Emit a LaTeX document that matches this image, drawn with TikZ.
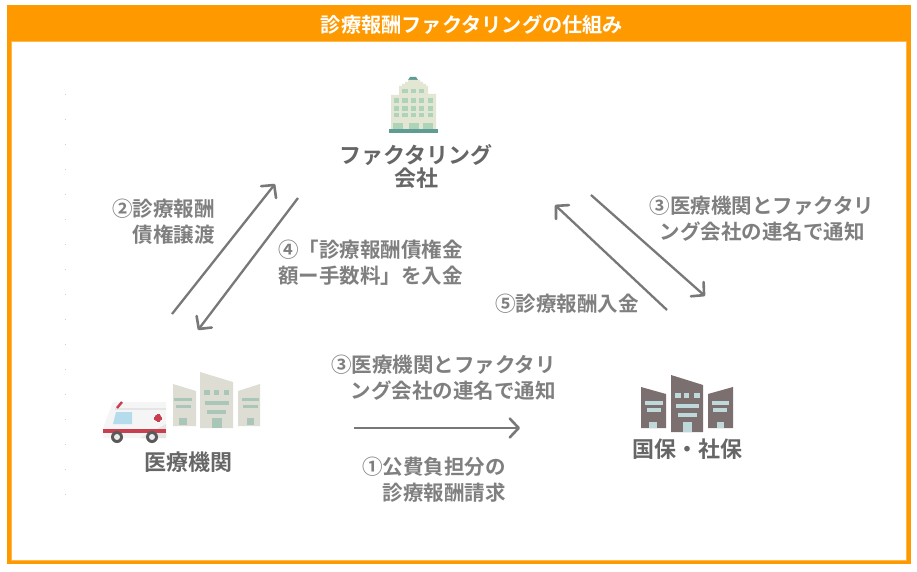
\documentclass[tikz,border=0pt]{standalone}
\usepackage{fontspec}
\setmainfont{Noto Sans CJK JP}[BoldFont={Noto Sans CJK JP Bold}]
\usetikzlibrary{arrows.meta}
\definecolor{orangeA}{HTML}{FF9900}
\definecolor{greyT}{HTML}{7F7F7F}
\definecolor{greyD}{HTML}{666666}
\definecolor{arrowG}{HTML}{787878}
\definecolor{hosp}{HTML}{DEDDD3}
\definecolor{hospW}{HTML}{A9C6B9}
\definecolor{nat}{HTML}{7B6F6F}
\definecolor{natW}{HTML}{BFD8DA}
\definecolor{tow}{HTML}{E3E6D2}
\definecolor{towW}{HTML}{ADD3B8}
\definecolor{towT}{HTML}{5E9C94}
\definecolor{ambR}{HTML}{C8404F}
\definecolor{ambW}{HTML}{B5DCEC}
\tikzset{
  lab/.style={font=\fontsize{20.5}{26}\selectfont\bfseries, text=greyT, inner sep=0pt},
  titleT/.style={font=\fontsize{20.2}{24}\selectfont\bfseries, text=white, inner sep=0pt},
  head/.style={font=\fontsize{22}{23}\selectfont\bfseries, text=greyD, inner sep=0pt, align=center},
  flow/.style={draw=arrowG, line width=2.3pt, -{Straight Barb[length=9pt,width=19pt,line width=2.6pt,round]}},
  speck/.style={fill=black!20, draw=none},
}
\begin{document}
\begin{tikzpicture}[x=1pt,y=-1pt]
\useasboundingbox (0,0) rectangle (917,572);
\fill[white] (0,0) rectangle (917,572);
% frame
\fill[orangeA] (7,5) rectangle (911,564);
\fill[orangeA!70!white] (11,41) rectangle (907,561);
\fill[white] (12,42) rectangle (906,560);
\node[titleT] (title) at (472,25) {診療報酬ファクタリングの仕組み};
% specks
\foreach \i in {0,...,16} {\fill[speck] (65,{94+\i*25}) rectangle +(1,1);}
% tower
\fill[towT] (408,80) -- (410,77) -- (416,77) -- (418,80) -- cycle;
\fill[tow] (408,80) -- (420,80) -- (420,82) -- (423,82) -- (423,84) -- (426,84) -- (426,86) -- (428,86) -- (428,94) -- (436,94) -- (436,129) -- (391,129) -- (391,95) -- (399,95) -- (399,86) -- (402,86) -- (402,84) -- (405,84) -- (405,82) -- (408,82) -- cycle;
\foreach \x/\w in {402/6,411/5,419/5} {\fill[towW] (\x,89) rectangle +(\w,4);}
\foreach \y/\h in {98/5,106/5,113/4} \foreach \x/\w in {394/5,402/6,411/5,419/5,428/5} {\fill[towW] (\x,\y) rectangle +(\w,\h);}
\foreach \x in {393,409,423} {\fill[towW] (\x,123) rectangle +(10,6);}
\fill[towT] (389,129) rectangle (438,133);
\node[head] (factor) at (416,166) {ファクタリング\\会社};
% hospital
\fill[hosp] (173,384) -- (196,391) -- (196,426) -- (173,426) -- cycle;
\fill[hosp] (200,372) -- (233,382) -- (233,428) -- (200,428) -- cycle;
\fill[hosp] (238,391) -- (260,384) -- (260,426) -- (238,426) -- cycle;
\foreach \x/\w/\y/\h in {174/18/398/3,176/15/405/3,204/6/390/5,214/5/390/5,224/5/390/5,205/24/401/4,207/19/410/4,242/17/398/3,243/15/405/3,179/8/418/7,212/10/418/10,247/7/418/7} {\fill[hospW] (\x,\y) rectangle +(\w,\h);}
% ambulance
\fill[black!4] (113,402) -- (166,402) -- (166,438) -- (103,438) -- (103,428) -- cycle;
\fill[black!10] (140,438) -- (166,424) -- (166,438) -- cycle;
\fill[black!10] (115,408) rectangle (166,409.5);
\draw[ambR,line width=2.4pt] (117,408) -- (122,402);
\fill[ambW] (116,412) -- (132,412) -- (132,424) -- (113,424) -- cycle;
\fill[ambR] (103,428.5) rectangle (166,433);
\fill[ambR] (158,418) circle (3.6);
\fill[ambR] (154,416.5) rectangle (162,419.5);
\fill[ambR] (156.5,414) rectangle (159.5,422);
\foreach \c in {117,152}{\fill[black!65] (\c,437) circle (6); \fill[black!8] (\c,437) circle (3);}
\node[head] (clinic) at (188,462) {医療機関};
% national
\fill[nat] (641,387) -- (666,394) -- (666,428) -- (641,428) -- cycle;
\fill[nat] (671,375) -- (703,385) -- (703,432) -- (671,432) -- cycle;
\fill[nat] (708,394) -- (733,387) -- (733,428) -- (708,428) -- cycle;
\foreach \x/\w/\y/\h in {645/18/401/4,647/14/408/4,675/6/393/5,684/5/393/5,694/6/393/5,676/23/404/4,678/19/413/4,712/17/401/4,713/14/408/4,649/8/422/6,683/9/422/10,717/7/422/6} {\fill[natW] (\x,\y) rectangle +(\w,\h);}
\node[head] (insur) at (687,449) {国保・社保};
% labels
\node[lab,align=right,anchor=east] (l2) at (215,222) {②診療報酬\\債権譲渡};
\node[lab,align=left,anchor=west] (l4) at (278,263) {④「診療報酬債権金\\額ー手数料」を入金};
\node[lab,align=center] (l3r) at (762,219) {③医療機関とファクタリ\\ング会社の連名で通知};
\node[lab] (l5) at (567,304) {⑤診療報酬入金};
\node[lab,align=right,anchor=east] (l3b) at (556,378) {③医療機関とファクタリ\\ング会社の連名で通知};
\node[lab,align=right,anchor=east] (l1) at (506,480) {①公費負担分の\\診療報酬請求};
% connectors
\coordinate (a2s) at (172,314); \coordinate (a2e) at (275,184);
\coordinate (a4s) at (298,198); \coordinate (a4e) at (198,330);
\coordinate (a3s) at (591,195); \coordinate (a3e) at (705,296);
\coordinate (a5s) at (667,310); \coordinate (a5e) at (555,205);
\coordinate (a1s) at (354,428); \coordinate (a1e) at (520,428);
\draw[flow] (a2s) -- (a2e);
\draw[flow] (a4s) -- (a4e);
\draw[flow] (a3s) -- (a3e);
\draw[flow] (a5s) -- (a5e);
\draw[flow] (a1s) -- (a1e);
\end{tikzpicture}
\end{document}
